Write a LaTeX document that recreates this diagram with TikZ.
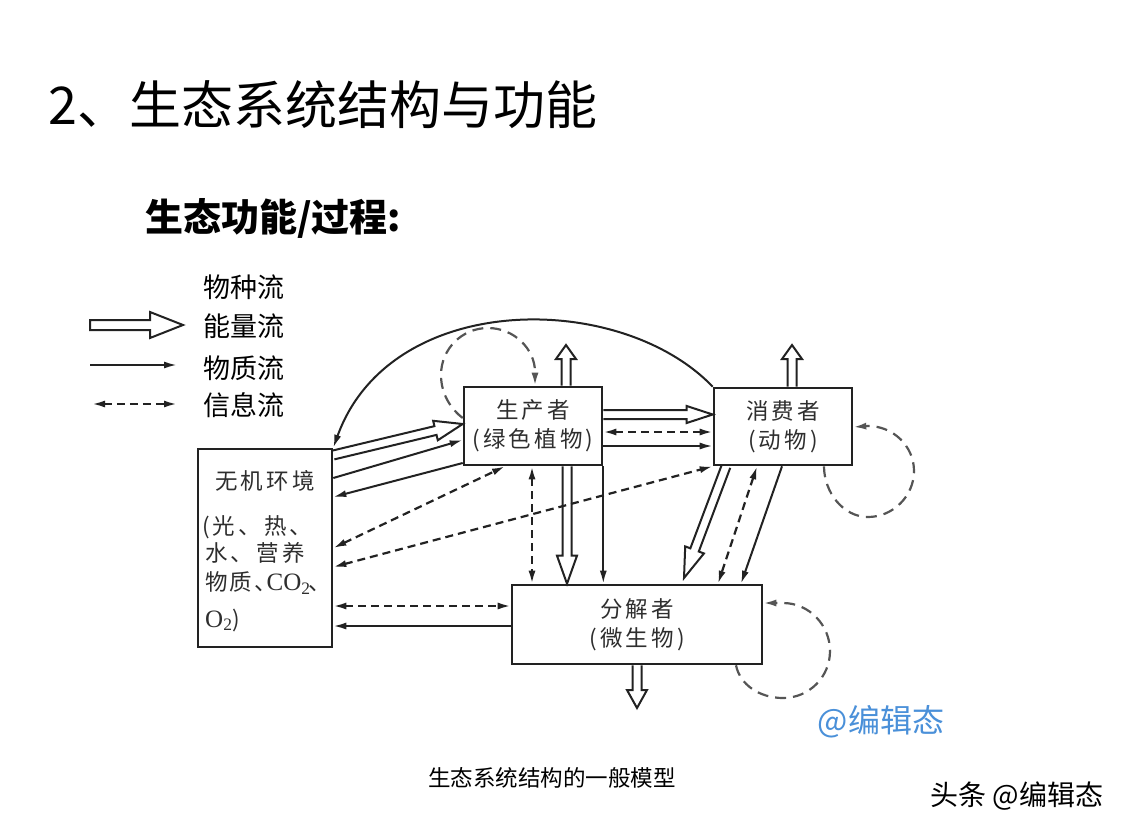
\documentclass[tikz,border=0pt]{standalone}
\usepackage{fontspec}
\setmainfont{Noto Sans CJK SC}
\newfontfamily\hei{Noto Sans CJK SC}
\newfontfamily\songsp[LetterSpace=14]{Noto Sans CJK SC}
\newfontfamily\songrm{Noto Sans CJK SC}
\newfontfamily\latinrm{Liberation Serif}
\usetikzlibrary{calc,arrows.meta}
\definecolor{ink}{HTML}{222222}
\definecolor{loopc}{HTML}{555555}
\definecolor{boxtxt}{HTML}{2E2E2E}
\definecolor{wmblue}{HTML}{4A90D9}
\tikzset{
  >={Latex[length=13pt,width=7pt]},
  box/.style={draw=ink, line width=2.6pt, inner sep=0pt, align=center, text=boxtxt, font=\songsp\fontsize{22.5}{29}\selectfont},
  matter/.style={draw=ink, line width=2pt, ->},
  info/.style={draw=ink, line width=2.2pt, dash pattern=on 8pt off 5pt, <->},
  loopline/.style={draw=loopc, line width=2.2pt, dash pattern=on 11pt off 7pt, ->},
  hollow/.style={draw=ink, line width=2pt, line join=miter},
  legendtxt/.style={anchor=west, inner sep=0pt, font=\hei\fontsize{27}{30}\selectfont},
  envtxt/.style={anchor=west, inner sep=0pt, text=boxtxt, font=\songsp\fontsize{22.5}{29}\selectfont},
}
% #1 closing, #2 start, #3 tip, #4 head length, #5 head half width, #6 shaft half width
\newcommand\hollowarrow[6][]{%
  \coordinate (ha-h) at ($(#3)!#4pt!(#2)$);
  \draw[hollow] ($(#2)!#6pt!90:(#3)$) -- ($(ha-h)!#6pt!90:(#3)$) -- ($(ha-h)!#5pt!90:(#3)$) -- (#3) -- ($(ha-h)!#5pt!-90:(#3)$) -- ($(ha-h)!#6pt!-90:(#3)$) -- ($(#2)!#6pt!-90:(#3)$) #1;}
\begin{document}
\begin{tikzpicture}[x=1pt,y=-1pt]
\useasboundingbox[fill=white] (0,0) rectangle (1129,833);
% titles
\node[anchor=west, inner sep=0pt, font=\hei\fontsize{52}{60}\selectfont] (title) at (48,105) {2、生态系统结构与功能};
\node[anchor=west, inner sep=0pt, font=\hei\bfseries\fontsize{38}{44}\selectfont] (sub) at (145,218) {生态功能/过程:};
% legend
\node[legendtxt] (lg1) at (203,287) {物种流};
\node[legendtxt] (lg2) at (203,326) {能量流};
\node[legendtxt] (lg3) at (203,368) {物质流};
\node[legendtxt] (lg4) at (203,405) {信息流};
\coordinate (lgA1) at (90,325); \coordinate (lgA2) at (183,325);
\hollowarrow[-- cycle]{lgA1}{lgA2}{33}{13}{5}
\coordinate (lgB1) at (90,365); \coordinate (lgB2) at (177,365);
\draw[matter] (lgB1) -- (lgB2);
\coordinate (lgC1) at (92,404); \coordinate (lgC2) at (177,404);
\draw[info] (lgC1) -- (lgC2);
% boxes
\node[box, minimum width=134pt, minimum height=198pt] (env) at (265,548) {};
\node[box, minimum width=138pt, minimum height=78pt] (prod) at (533,426) {生产者\\(绿色植物)};
\node[box, minimum width=138pt, minimum height=77pt] (cons) at (783,426.5) {消费者\\(动物)};
\node[box, minimum width=250pt, minimum height=79pt] (dec) at (637,624.5) {分解者\\(微生物)};
% env text
\node[envtxt, anchor=center] (envT1) at (265,481) {无机环境};
\node[envtxt] (envT2) at (202,527) {(光、热、};
\node[envtxt] (envT3) at (205,553) {水、营养};
\node[envtxt, font=\songrm\fontsize{22.5}{29}\selectfont] (envT4) at (205,583) {物\kern2pt 质\kern2pt 、\kern-10pt{\latinrm\fontsize{25}{29}\selectfont CO\textsubscript{2}}\kern-2pt、};
\node[envtxt, font=\songrm\fontsize{22.5}{29}\selectfont] (envT5) at (205,620) {{\latinrm\fontsize{25}{29}\selectfont O\textsubscript{2}})};
% curved matter flow consumer -> environment
\draw[matter] (cons.north west) .. controls (620,290) and (390,290) .. (env.north east);
% env <-> producer
\coordinate (ep1) at (env.east |- 0,455);
\coordinate (ep2) at (prod.west |- 0,424);
\hollowarrow{ep1}{ep2}{28}{10}{4.5}
\draw[matter] (env.east |- 0,478) -- (prod.west |- 0,440);
\draw[matter] (prod.west |- 0,463) -- (env.east |- 0,497);
\draw[info] (env.east |- 0,548) -- (prod.south -| 505,0);
\draw[info] (env.east |- 0,567) -- (cons.south west);
\draw[info] (env.east |- 0,606) -- (dec.west |- 0,606);
\draw[matter] (dec.west |- 0,626) -- (env.east |- 0,626);
% producer loop and up arrow
\draw[loopline] (prod.west |- 0,418) .. controls (452,410) and (441,395) .. (441,375) .. controls (441,349) and (462,328) .. (488,328) .. controls (514,328) and (535,349) .. (535,372) -- (prod.north -| 535,0);
\coordinate (pu1) at (prod.north -| 566,0);
\coordinate (pu2) at (566,345);
\hollowarrow{pu1}{pu2}{14}{10}{4.5}
% consumer up arrow
\coordinate (cu1) at (cons.north -| 792,0);
\coordinate (cu2) at (792,345);
\hollowarrow{cu1}{cu2}{14}{10}{4.5}
% producer <-> consumer
\coordinate (pc1) at (prod.east |- 0,414.5);
\coordinate (pc2) at (cons.west |- 0,414.5);
\hollowarrow{pc1}{pc2}{26}{8.5}{4.5}
\draw[info] (prod.east |- 0,432) -- (cons.west |- 0,432);
\draw[matter] (prod.east |- 0,446) -- (cons.west |- 0,446);
% producer -> decomposer
\draw[info] (prod.south -| 532,0) -- (dec.north -| 532,0);
\coordinate (pd1) at (prod.south -| 567,0);
\coordinate (pd2) at (dec.north -| 567,0);
\hollowarrow{pd1}{pd2}{28}{10}{4.5}
\draw[matter] (prod.south east) -- (dec.north -| prod.south east);
% consumer -> decomposer
\coordinate (cd1) at (cons.south -| 726,0);
\coordinate (cd2) at (684,578);
\hollowarrow{cd1}{cd2}{30}{10}{4.5}
\draw[info] (cons.south -| 757,0) -- (dec.north -| 718,0);
\draw[matter] (cons.south -| 782,0) -- (dec.north -| 741,0);
% consumer loop
\draw[loopline] (cons.south -| 824,0) .. controls (824,492) and (843,517) .. (868,517) .. controls (893,517) and (914,496) .. (914,471) .. controls (914,446) and (893,426) .. (868,426) -- (cons.east |- 0,427);
% decomposer loop and down arrow
\draw[loopline] (dec.south -| 736,0) .. controls (740,685) and (760,698) .. (783,698) .. controls (809,698) and (830,677) .. (830,651) .. controls (830,625) and (809,603) .. (783,603) -- (dec.east |- 0,603);
\coordinate (dd1) at (dec.south -| 637,0);
\coordinate (dd2) at (637,708);
\hollowarrow{dd1}{dd2}{18}{10}{4.5}
% captions and watermarks
\node[inner sep=0pt, text=wmblue, font=\hei\fontsize{32}{36}\selectfont] (wm1) at (881,722) {@编辑态};
\node[inner sep=0pt, font=\hei\fontsize{22.5}{26}\selectfont] (cap) at (552,778) {生态系统结构的一般模型};
\node[inner sep=0pt, font=\hei\fontsize{28}{32}\selectfont] (wm2) at (1017,796) {头条 @编辑态};
\end{tikzpicture}
\end{document}
